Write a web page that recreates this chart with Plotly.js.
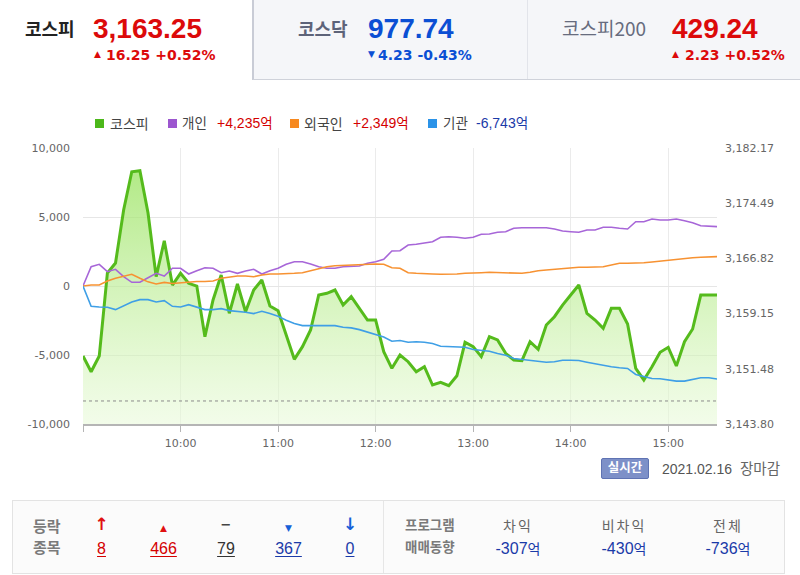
<!DOCTYPE html>
<html><head><meta charset="utf-8">
<script src="https://cdn.plot.ly/plotly-3.0.1.min.js"></script>
<style>
html,body{margin:0;padding:0;width:800px;height:575px;overflow:hidden;background:#fff;}
.a{position:absolute;white-space:nowrap;line-height:1;}
.ko{font-family:"Noto Sans CJK KR",sans-serif;}
.ln{font-family:"Liberation Sans",Arial,sans-serif;}
.dv{font-family:"DejaVu Sans",sans-serif;}
.b{font-weight:bold;}
.sq{position:absolute;width:9px;height:9px;}
.ctr{text-align:center;width:100px;}
.u{text-decoration:underline;text-underline-offset:2px;}
</style></head><body>
<div id="chart" style="position:absolute;left:0;top:0;width:800px;height:575px;"></div>

<!-- header -->
<div style="position:absolute;left:252px;top:0;width:548px;height:79px;background:#f5f6f9;border-left:2px solid #c9ccd6;border-bottom:1px solid #cfd2da;"></div>
<div style="position:absolute;left:527px;top:0;width:1px;height:79px;background:#e2e4ea;"></div>

<div class="a ko b" style="left:25px;top:18.5px;font-size:18px;color:#222;">코스피</div>
<div class="a ln b" style="left:93px;top:15px;font-size:28px;color:#dc0a0a;">3,163.25</div>
<div class="a dv" style="left:94px;top:50px;font-size:9px;color:#dc0a0a;">▲</div>
<div class="a dv b" style="left:106px;top:48px;font-size:14px;color:#dc0a0a;">16.25 +0.52%</div>

<div class="a ko b" style="left:298px;top:18.5px;font-size:18px;color:#5d6379;">코스닥</div>
<div class="a ln b" style="left:368px;top:15px;font-size:28px;color:#0b4fd4;">977.74</div>
<div class="a dv" style="left:368px;top:50px;font-size:9px;color:#0b4fd4;">▼</div>
<div class="a dv b" style="left:378px;top:48px;font-size:14px;color:#0b4fd4;">4.23 -0.43%</div>

<div class="a ko" style="left:562px;top:17.5px;font-size:19px;color:#676c7e;">코스피200</div>
<div class="a ln b" style="left:672px;top:15px;font-size:28px;color:#dc0a0a;">429.24</div>
<div class="a dv" style="left:672px;top:50px;font-size:9px;color:#dc0a0a;">▲</div>
<div class="a dv b" style="left:685px;top:48px;font-size:14px;color:#dc0a0a;">2.23 +0.52%</div>

<!-- legend -->
<div class="sq" style="left:95px;top:118.5px;background:#4cb81a;"></div>
<div class="a ko" style="left:110px;top:115.5px;font-size:14px;color:#444;">코스피</div>
<div class="sq" style="left:168px;top:118.5px;background:#9c56cf;"></div>
<div class="a ko" style="left:182px;top:115.5px;font-size:13.5px;color:#444;">개인</div>
<div class="a ln" style="left:217px;top:116px;font-size:14px;color:#d40000;">+4,235<span class="ko" style="font-size:13.5px;">억</span></div>
<div class="sq" style="left:290px;top:118.5px;background:#f7891f;"></div>
<div class="a ko" style="left:304px;top:115.5px;font-size:14px;color:#444;">외국인</div>
<div class="a ln" style="left:353px;top:116px;font-size:14px;color:#d40000;">+2,349<span class="ko" style="font-size:13.5px;">억</span></div>
<div class="sq" style="left:428px;top:118.5px;background:#2b93e8;"></div>
<div class="a ko" style="left:443px;top:115.5px;font-size:13.5px;color:#444;">기관</div>
<div class="a ln" style="left:476px;top:116px;font-size:14px;color:#1a3aa8;">-6,743<span class="ko" style="font-size:13.5px;">억</span></div>

<!-- status line -->
<div style="position:absolute;left:601px;top:458px;width:46px;height:19px;background:#7d90c8;border:1px solid #5f73b3;border-radius:2px;"></div>
<div class="a ko b" style="left:602px;top:461px;width:46px;text-align:center;font-size:12.5px;color:#fff;">실시간</div>
<div class="a ln" style="left:662px;top:462px;font-size:14px;color:#555;">2021.02.16</div>
<div class="a ko" style="left:740px;top:461px;font-size:14.5px;color:#666;">장마감</div>

<!-- bottom table -->
<div style="position:absolute;left:12px;top:500px;width:771px;height:72px;background:#fbfbfb;border:1px solid #e3e3e3;"></div>
<div style="position:absolute;left:383px;top:501px;width:1px;height:72px;background:#e6e6e6;"></div>

<div class="a ko b" style="left:33px;top:517.5px;font-size:15px;color:#7a7a7a;">등락</div>
<div class="a ko b" style="left:33px;top:539px;font-size:15px;color:#7a7a7a;">종목</div>

<div class="a dv b ctr" style="left:51.5px;top:516px;font-size:17px;color:#e01010;">↑</div>
<div class="a dv ctr" style="left:113.5px;top:523.5px;font-size:9px;color:#e01010;">▲</div>
<div class="a dv b ctr" style="left:176px;top:518px;font-size:13px;color:#444;">−</div>
<div class="a dv ctr" style="left:238.5px;top:523.5px;font-size:9px;color:#1560d8;">▼</div>
<div class="a dv b ctr" style="left:300px;top:516px;font-size:17px;color:#1560d8;">↓</div>

<div class="a ln ctr" style="left:51.5px;top:541px;font-size:16px;"><span class="u" style="color:#d40000;">8</span></div>
<div class="a ln ctr" style="left:113.5px;top:541px;font-size:16px;"><span class="u" style="color:#d40000;">466</span></div>
<div class="a ln ctr" style="left:176px;top:541px;font-size:16px;"><span class="u" style="color:#333;">79</span></div>
<div class="a ln ctr" style="left:238.5px;top:541px;font-size:16px;"><span class="u" style="color:#1a3aa8;">367</span></div>
<div class="a ln ctr" style="left:300px;top:541px;font-size:16px;"><span class="u" style="color:#1a3aa8;">0</span></div>

<div class="a ko b" style="left:405px;top:518px;font-size:13.5px;color:#7a7a7a;">프로그램</div>
<div class="a ko b" style="left:405px;top:539.5px;font-size:13.5px;color:#7a7a7a;">매매동향</div>

<div class="a ko ctr" style="left:468px;top:518px;font-size:14px;color:#666;letter-spacing:2px;">차익</div>
<div class="a ko ctr" style="left:574px;top:518px;font-size:14px;color:#666;letter-spacing:2px;">비차익</div>
<div class="a ko ctr" style="left:678px;top:518px;font-size:14px;color:#666;letter-spacing:2px;">전체</div>
<div class="a ln ctr" style="left:468px;top:541px;font-size:16px;color:#1a3aa8;">-307<span class="ko" style="font-size:14px;">억</span></div>
<div class="a ln ctr" style="left:574px;top:541px;font-size:16px;color:#1a3aa8;">-430<span class="ko" style="font-size:14px;">억</span></div>
<div class="a ln ctr" style="left:678px;top:541px;font-size:16px;color:#1a3aa8;">-736<span class="ko" style="font-size:14px;">억</span></div>

<script>
// ---- data ----
const times = [
 '09:00','09:05','09:10','09:15','09:20','09:25','09:30','09:35','09:40','09:45','09:50','09:55',
 '10:00','10:05','10:10','10:15','10:20','10:25','10:30','10:35','10:40','10:45','10:50','10:55',
 '11:00','11:05','11:10','11:15','11:20','11:25','11:30','11:35','11:40','11:45','11:50','11:55',
 '12:00','12:05','12:10','12:15','12:20','12:25','12:30','12:35','12:40','12:45','12:50','12:55',
 '13:00','13:05','13:10','13:15','13:20','13:25','13:30','13:35','13:40','13:45','13:50','13:55',
 '14:00','14:05','14:10','14:15','14:20','14:25','14:30','14:35','14:40','14:45','14:50','14:55',
 '15:00','15:05','15:10','15:15','15:20','15:25','15:30'];

const kospi = [
 3153.25,3151.07,3153.25,3164.79,3166.18,3173.55,3178.87,3179.01,3173.13,3164.28,
 3169.28,3163.12,3164.75,3163.36,3162.98,3155.94,3161.04,3164.51,3159.19,3163.26,
 3159.41,3162.43,3163.82,3160.20,3159.55,3156.17,3152.79,3154.55,3156.87,3161.73,
 3161.97,3162.43,3160.34,3161.50,3159.88,3158.26,3158.26,3153.85,3151.54,3153.39,
 3152.46,3151.07,3151.77,3149.22,3149.60,3149.12,3150.51,3155.16,3154.55,3153.16,
 3155.94,3155.48,3153.63,3152.70,3152.60,3155.24,3154.18,3157.56,3158.72,3160.34,
 3161.73,3163.12,3159.19,3158.26,3157.10,3159.88,3159.88,3157.70,3151.54,3149.92,
 3151.77,3153.77,3154.46,3151.86,3155.24,3157.01,3161.73,3161.73,3161.73];

const individual = [
 0,1398,1572,1036,1210,674,268,268,601,920,
 725,1283,1283,870,1109,1326,1283,964,1087,920,
 1087,1210,870,1109,1283,1572,1761,1761,1594,1398,
 1283,1283,1398,1398,1449,1645,1761,1935,2536,2558,
 2971,3022,3094,3210,3529,3572,3529,3456,3529,3746,
 3768,3891,3935,4181,4224,4224,4253,4224,4130,3985,
 3935,3891,4058,4058,4253,4253,4181,4130,4659,4659,
 4855,4782,4782,4855,4732,4587,4369,4348,4300];

const foreign = [
 0,72,72,362,558,725,848,558,300,150,
 260,180,230,290,330,330,360,558,630,725,
 725,674,797,870,870,870,920,964,1109,1283,
 1398,1471,1500,1522,1572,1594,1594,1572,1326,1283,
 964,920,920,870,848,848,870,920,964,964,
 993,964,964,920,920,993,1109,1159,1210,1283,
 1326,1355,1355,1377,1398,1522,1645,1645,1645,1688,
 1739,1812,1884,1935,2007,2051,2080,2101,2130];

const institution = [
 0,-1470,-1520,-1545,-1710,-1420,-1156,-990,-990,-1156,
 -1060,-1470,-1520,-1350,-1520,-1710,-1710,-1640,-1785,-1835,
 -1907,-2000,-1835,-2000,-2196,-2485,-2725,-2870,-2870,-2845,
 -2845,-2870,-2990,-3035,-3160,-3325,-3470,-3690,-4000,-3950,
 -4075,-4045,-4075,-4170,-4365,-4400,-4400,-4435,-4600,-4675,
 -4725,-4890,-5015,-5250,-5325,-5375,-5490,-5520,-5490,-5375,
 -5375,-5400,-5520,-5635,-5760,-5850,-5925,-5975,-6410,-6530,
 -6700,-6720,-6820,-6890,-6890,-6770,-6650,-6650,-6743];

const prevClose = 3147.00;
const xTickVals = ['09:00','10:00','11:00','12:00','13:00','14:00','15:00'];
const xTickText = ['','10:00','11:00','12:00','13:00','14:00','15:00'];
const yLeftTicks = [-10000,-5000,0,5000,10000];
const yLeftText = ['-10,000','-5,000','0','5,000','10,000'];
const yRightTicks = [3143.80,3151.48,3159.15,3166.82,3174.49,3182.17];
const yRightText = ['3,143.80','3,151.48','3,159.15','3,166.82','3,174.49','3,182.17'];
const day = '2021-02-16 ';
// --------------

const X = times.map(t => day + t);

// kospi on the base (right) axis so that the investor lines on the overlay axis draw above its fill
const traces = [
  {x: X, y: kospi, yaxis: 'y', type: 'scatter', mode: 'lines', name: '코스피',
   line: {color: '#55bb1c', width: 3}, fill: 'tozeroy',
   fillgradient: {type: 'vertical', start: 3143.8, stop: 3180,
     colorscale: [[0, 'rgba(232,250,216,0.55)'], [1, 'rgba(150,226,90,0.75)']]}},
  {x: X, y: individual, yaxis: 'y2', type: 'scatter', mode: 'lines', name: '개인',
   line: {color: '#a766d8', width: 1.6}},
  {x: X, y: foreign, yaxis: 'y2', type: 'scatter', mode: 'lines', name: '외국인',
   line: {color: '#f79232', width: 1.6}},
  {x: X, y: institution, yaxis: 'y2', type: 'scatter', mode: 'lines', name: '기관',
   line: {color: '#3f9fe6', width: 1.6}}
];

const layout = {
  width: 800, height: 575,
  margin: {l: 83, r: 83, t: 148, b: 151, pad: 0},
  paper_bgcolor: 'rgba(0,0,0,0)', plot_bgcolor: 'rgba(0,0,0,0)',
  showlegend: false,
  font: {family: 'DejaVu Sans, sans-serif', size: 11, color: '#666'},
  xaxis: {type: 'date', range: [day + '09:00', day + '15:30'],
    tickmode: 'array', tickvals: xTickVals.map(t => day + t), ticktext: xTickText,
    showgrid: true, gridcolor: '#ebebeb', gridwidth: 1,
    ticks: 'outside', ticklen: 6, tickcolor: '#b5b5b5', tickwidth: 1,
    showline: true, linecolor: '#b5b5b5', linewidth: 2, zeroline: false,
    tickfont: {size: 11, color: '#666'}, ticklabelstandoff: 2},
  yaxis: {range: [3143.80, 3182.17], side: 'right',
    tickmode: 'array', tickvals: yRightTicks, ticktext: yRightText,
    showgrid: false, zeroline: false, showline: false, ticks: '',
    tickfont: {size: 11, color: '#666'}, ticklabelstandoff: 7},
  yaxis2: {range: [-10000, 10000], overlaying: 'y', side: 'left',
    tickmode: 'array', tickvals: yLeftTicks, ticktext: yLeftText,
    showgrid: true, gridcolor: '#e6e6e6', zeroline: false, showline: false, ticks: '',
    tickfont: {size: 11, color: '#666'}, ticklabelstandoff: 12},
  shapes: [{type: 'line', xref: 'paper', x0: 0, x1: 1, yref: 'y', y0: prevClose, y1: prevClose,
    line: {color: '#8a8a8a', width: 1, dash: 'dot'}}]
};

Plotly.newPlot('chart', traces, layout, {staticPlot: true, displayModeBar: false});
</script>
</body></html>
